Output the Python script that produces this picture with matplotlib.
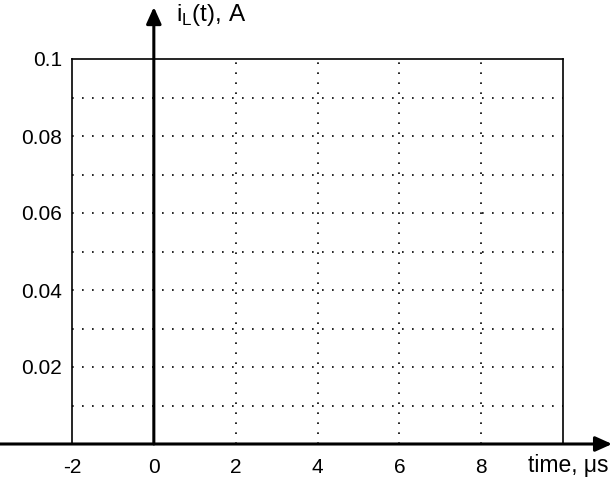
import matplotlib
matplotlib.use("Agg")
import matplotlib.pyplot as plt

# Axis settings
x_ticks = [-2, 0, 2, 4, 6, 8]
x_grid = [0, 2, 4, 6, 8]
y_ticks = [0.02, 0.04, 0.06, 0.08, 0.1]
y_tick_labels = ["0.02", "0.04", "0.06", "0.08", "0.1"]
y_grid = [0.01, 0.02, 0.03, 0.04, 0.05, 0.06, 0.07, 0.08, 0.09]
x_limits = [-2, 10]
y_limits = [0, 0.1]

plt.rcParams["font.family"] = ["Liberation Sans", "DejaVu Sans"]

fig = plt.figure(figsize=(6.13, 4.79), dpi=100)
ax = fig.add_axes([72 / 613, 35 / 479, 491 / 613, 385 / 479])
ax.set_xlim(x_limits)
ax.set_ylim(y_limits)

# Box (bottom edge is covered by the time axis)
for side in ["left", "right", "top"]:
    ax.spines[side].set_linewidth(1.2)
    ax.spines[side].set_color("black")
ax.spines["bottom"].set_visible(False)

# Dotted grid
for gx in x_grid:
    ax.axvline(gx, color="black", lw=1.2, ls=(0, (1, 5)), zorder=1)
for gy in y_grid:
    ax.axhline(gy, color="black", lw=1.2, ls=(0, (1, 5)), zorder=1)

# Ticks: labels only
ax.set_xticks(x_ticks)
ax.set_xticklabels([str(t) for t in x_ticks])
ax.set_yticks(y_ticks)
ax.set_yticklabels(y_tick_labels)
ax.tick_params(axis="both", length=0, labelsize=15)
ax.tick_params(axis="x", pad=10)
ax.tick_params(axis="y", pad=7)

# Arrowed axes
ax.annotate("", xy=(11.2, 0), xytext=(-3.8, 0), xycoords="data",
            arrowprops=dict(arrowstyle="-|>,head_length=1.0,head_width=0.45",
                            lw=2.2, color="black", shrinkA=0, shrinkB=0),
            annotation_clip=False)
ax.annotate("", xy=(0, 0.1135), xytext=(0, 0), xycoords="data",
            arrowprops=dict(arrowstyle="-|>,head_length=1.0,head_width=0.45",
                            lw=2.2, color="black", shrinkA=0, shrinkB=0),
            annotation_clip=False)

# Axis titles
ax.text(11.1, -0.0055, "time, \u03bcs", fontsize=16.5, ha="right", va="center")
ax.text(0.55, 0.1115, r"i$_\mathregular{L}$(t), A", fontsize=17.5, ha="left", va="center")

fig.savefig("out.png", dpi=100)
